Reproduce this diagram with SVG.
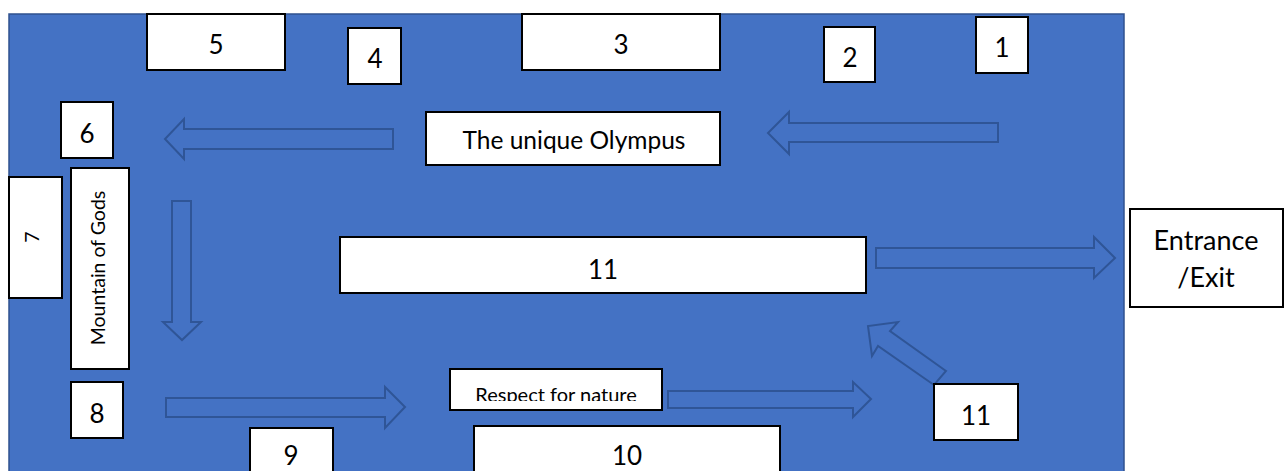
<svg xmlns="http://www.w3.org/2000/svg" width="1285" height="471" viewBox="0 0 1285 471">
<defs>
<style>
.bg{fill:#4472C4;stroke:#2F528F;stroke-width:1.5}
.box{fill:#FFFFFF;stroke:#000000;stroke-width:2}
.arr{fill:none;stroke:#2F5597;stroke-width:2;stroke-linejoin:miter}
.t{font-family:Lato,"Open Sans","Liberation Sans",sans-serif;fill:#000000;text-anchor:middle}
.d{font-size:26px}
.m{font-size:24.5px}
.e{font-size:27px}
.s{font-size:19.5px}
.r{font-size:20px}
</style>
<clipPath id="clipResp"><rect x="450" y="369" width="212" height="32"/></clipPath>
</defs>
<rect id="background" class="bg" x="9" y="14" width="1115" height="470"/>

<g id="connectors">
<polygon class="arr" points="393,129 184,129 184,119 165,139 184,159 184,149 393,149"/>
<polygon class="arr" points="998,123 789,123 789,112 768,133 789,154 789,142 998,142"/>
<polygon class="arr" points="172,201 191,201 191,322 201,322 182,340 163,322 172,322"/>
<polygon class="arr" points="876,248 1094,248 1094,237 1115,258 1094,278 1094,268 876,268"/>
<polygon class="arr" points="166,398 385,398 385,387 405,407 385,428 385,417 166,417"/>
<polygon class="arr" points="668,391 853,391 853,382 871,399 853,417 853,408 668,408"/>
<polygon class="arr" points="946,371 890,331 898,322 868,326 872,356 878,346 934,385"/>
</g>

<g id="node-5"><rect class="box" x="147" y="14" width="138" height="56"/><text class="t d" x="216" y="54">5</text></g>
<g id="node-4"><rect class="box" x="348" y="28" width="53" height="56"/><text class="t d" x="375" y="68">4</text></g>
<g id="node-3"><rect class="box" x="522" y="14" width="198" height="56"/><text class="t d" x="621" y="54">3</text></g>
<g id="node-2"><rect class="box" x="824" y="27" width="51" height="55"/><text class="t d" x="850" y="67">2</text></g>
<g id="node-1"><rect class="box" x="976" y="17" width="52" height="56"/><text class="t d" x="1002" y="57">1</text></g>
<g id="node-6"><rect class="box" x="61" y="102" width="52" height="56"/><text class="t d" x="87" y="143">6</text></g>
<g id="node-olympus"><rect class="box" x="426" y="112" width="294" height="53"/><text class="t m" x="574" y="149">The unique Olympus</text></g>
<g id="node-7"><rect class="box" x="9" y="177" width="53" height="121"/><text class="t s" transform="translate(39,237) rotate(-90)">7</text></g>
<g id="node-mountain"><rect class="box" x="71" y="168" width="58" height="201"/><text class="t s" transform="translate(105,268) rotate(-90)">Mountain of Gods</text></g>
<g id="node-11-main"><rect class="box" x="340" y="237" width="526" height="56"/><text class="t d" x="603" y="279">11</text></g>
<g id="node-entrance"><rect class="box" x="1130" y="209" width="153" height="98"/><text class="t e" x="1206" y="250">Entrance</text><text class="t e" x="1206" y="287">/Exit</text></g>
<g id="node-8"><rect class="box" x="71" y="382" width="52" height="56"/><text class="t d" x="97" y="423">8</text></g>
<g id="node-9"><rect class="box" x="250" y="428" width="83" height="60"/><text class="t d" x="291" y="465">9</text></g>
<g id="node-respect"><rect class="box" x="450" y="369" width="212" height="41"/><text class="t r" x="556" y="402" clip-path="url(#clipResp)">Respect for nature</text></g>
<g id="node-10"><rect class="box" x="474" y="426" width="306" height="60"/><text class="t d" x="627" y="465">10</text></g>
<g id="node-11-small"><rect class="box" x="934" y="384" width="84" height="56"/><text class="t d" x="976" y="425">11</text></g>
</svg>
